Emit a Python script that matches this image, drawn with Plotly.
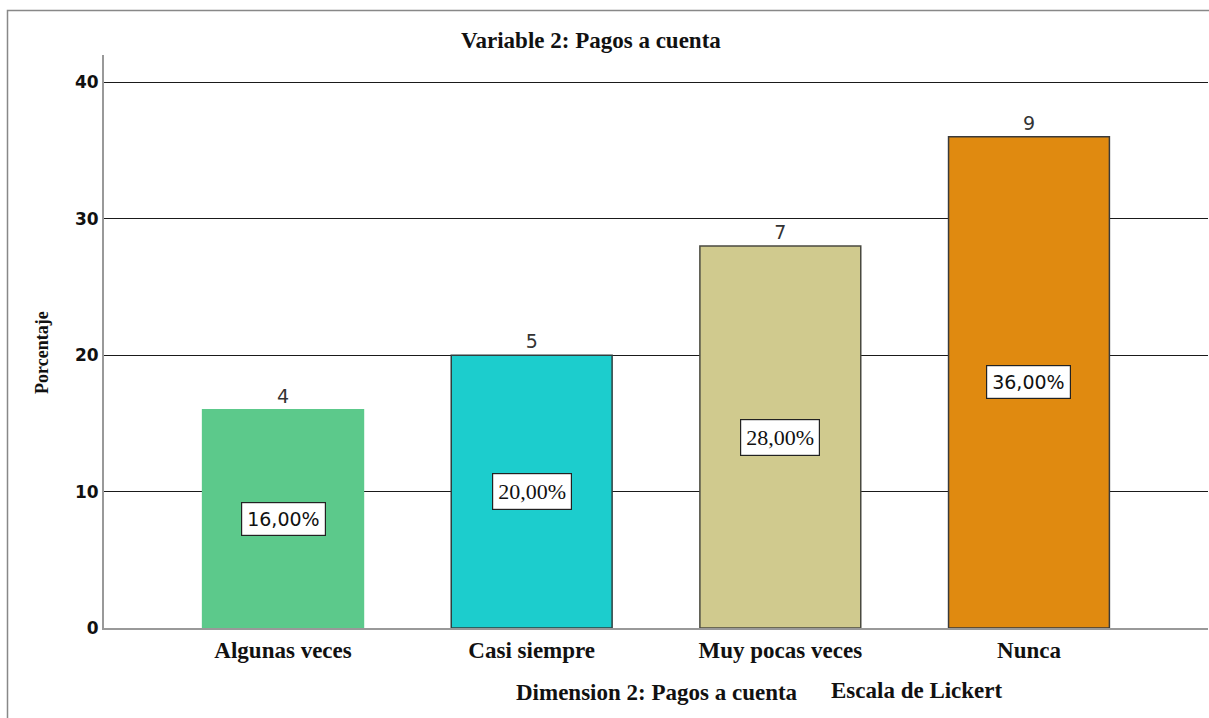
import plotly.graph_objects as go

categories = ["Algunas veces", "Casi siempre", "Muy pocas veces", "Nunca"]
percentages = [16.0, 20.0, 28.0, 36.0]
counts = [4, 5, 7, 9]
pct_labels = ["16,00%", "20,00%", "28,00%", "36,00%"]
bar_colors = ["#5CC98B", "#1CCDCD", "#D0CA8E", "#E08A10"]
bar_edges = ["#5CC98B", "#2F3F3F", "#4A4A40", "#3A3A3A"]
y_ticks = [0, 10, 20, 30, 40]

SERIF = "Liberation Serif, Times New Roman, serif"
SANS = "DejaVu Sans, sans-serif"

W, H = 1209, 718
PL, PR, PT, PB = 104, 1208, 55, 628  # plot area in pixels


def px_to_paper_x(px):
    return (px - PL) / (PR - PL)


def px_to_paper_y(py):
    return (PB - py) / (PB - PT)


fig = go.Figure()
fig.add_trace(go.Bar(
    x=categories, y=percentages,
    width=0.647,
    marker=dict(color=bar_colors, line=dict(color=bar_edges, width=1.5)),
    text=[str(c) for c in counts],
    textposition="outside",
    textfont=dict(family=SANS, size=19, color="#333333"),
    cliponaxis=False,
    hoverinfo="skip",
))

pct_fonts = [SANS, SERIF, SERIF, SANS]
pct_sizes = [19, 22, 22, 19]
for cat, p, lab, f, s in zip(categories, percentages, pct_labels, pct_fonts, pct_sizes):
    fig.add_annotation(
        x=cat, y=p / 2, xref="x", yref="y", text=lab, showarrow=False,
        font=dict(family=f, size=s, color="#111111"),
        bgcolor="white", bordercolor="#222222", borderwidth=1.2, borderpad=5,
    )

fig.update_layout(
    width=W, height=H,
    margin=dict(l=PL, r=W - PR, t=PT, b=H - PB),
    paper_bgcolor="white", plot_bgcolor="white",
    showlegend=False,
    xaxis=dict(
        range=[-0.72, 3.72],
        showgrid=False, showline=True, linecolor="#999999", linewidth=2,
        ticks="", tickfont=dict(family=SERIF, size=23, color="#111111", weight="bold"),
        zeroline=False,
    ),
    yaxis=dict(
        range=[0, 42],
        tickvals=y_ticks,
        showgrid=True, gridcolor="#1A1A1A", gridwidth=1,
        showline=True, linecolor="#999999", linewidth=2,
        ticks="", ticklen=0,
        tickfont=dict(family="DejaVu Sans", size=17, color="#111111", weight="bold"),
        zeroline=False,
    ),
)

fig.add_annotation(x=px_to_paper_x(591), y=px_to_paper_y(40), xref="paper", yref="paper",
                   xanchor="center", yanchor="middle",
                   text="<b>Variable 2: Pagos a cuenta</b>", showarrow=False,
                   font=dict(family=SERIF, size=23, color="#111111"))
fig.add_annotation(x=px_to_paper_x(42), y=px_to_paper_y(353), xref="paper", yref="paper",
                   xanchor="center", yanchor="middle", textangle=-90,
                   text="<b>Porcentaje</b>", showarrow=False,
                   font=dict(family=SERIF, size=18, color="#111111"))
fig.add_annotation(x=px_to_paper_x(657), y=px_to_paper_y(692), xref="paper", yref="paper",
                   xanchor="center", yanchor="middle",
                   text="<b>Dimension 2: Pagos a cuenta</b>", showarrow=False,
                   font=dict(family=SERIF, size=23, color="#111111"))
fig.add_annotation(x=px_to_paper_x(917), y=px_to_paper_y(690), xref="paper", yref="paper",
                   xanchor="center", yanchor="middle",
                   text="<b>Escala de Lickert</b>", showarrow=False,
                   font=dict(family=SERIF, size=23, color="#111111"))

# outer frame
fig.add_shape(type="rect", xref="paper", yref="paper",
              x0=px_to_paper_x(7.5), x1=px_to_paper_x(1240),
              y0=px_to_paper_y(760), y1=px_to_paper_y(10.5),
              line=dict(color="#888888", width=1.5), layer="below")

fig.write_html(
    "out.html",
    config={"displayModeBar": False},
    post_script="document.body.style.margin='0';document.body.style.overflow='hidden';",
)
